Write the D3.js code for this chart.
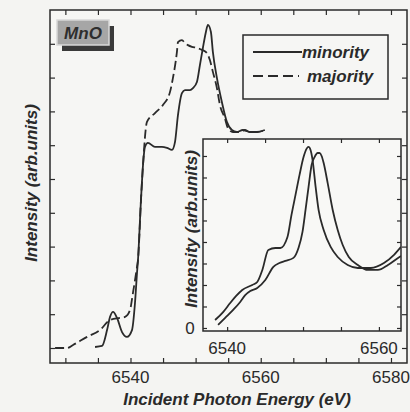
<!DOCTYPE html>
<html lang="en">
<head>
<meta charset="UTF-8">
<script src="https://d3js.org/d3.v7.min.js"></script>
<title>MnO minority / majority spectra</title>
<style>
    body { margin: 0; background: #f4f4f2; }
    text { font-family: "Liberation Sans", Arial, sans-serif; fill: #2a2a2a; }
</style>
</head>
<body>
<script>

    // data: [energy (eV), intensity (arb.)]
    const minorityMain = [
        [6534.56, 0.03], [6535.63, 0.06], [6536.4, 0.53], [6536.86, 0.92], [6537.32, 1.07],
        [6537.93, 0.89], [6538.7, 0.47], [6539.46, 0.33], [6540.23, 0.53], [6540.69, 1.33],
        [6541.0, 2.22], [6541.15, 2.6], [6541.61, 4.38], [6541.92, 5.41], [6542.22, 5.95],
        [6542.68, 6.07], [6543.76, 5.95], [6544.83, 5.95], [6545.6, 5.92], [6546.37, 5.86],
        [6546.83, 6.09], [6547.29, 6.89], [6547.9, 7.54], [6548.36, 7.63], [6549.13, 7.63],
        [6549.59, 7.69], [6550.2, 7.87], [6550.66, 8.37], [6551.12, 8.88], [6551.58, 9.35],
        [6551.89, 9.56], [6552.35, 9.35], [6552.65, 8.76], [6553.27, 7.99], [6554.03, 7.28],
        [6554.8, 6.69], [6555.57, 6.45], [6556.33, 6.39], [6557.25, 6.45], [6558.33, 6.39],
        [6559.4, 6.39], [6560.63, 6.45]
    ];

    const majorityMain = [
        [6528.42, 0], [6530.26, 0], [6531.18, 0.09], [6533.33, 0.33], [6535.32, 0.53],
        [6536.86, 0.83], [6538.39, 0.89], [6539.16, 0.92], [6539.92, 1.12], [6540.38, 1.63],
        [6541.0, 2.4], [6541.15, 2.6], [6541.61, 4.38], [6541.92, 5.41], [6542.53, 6.69],
        [6543.76, 6.95], [6544.98, 7.19], [6546.06, 7.57], [6546.52, 7.99], [6547.13, 8.76],
        [6547.29, 9.05], [6547.9, 9.11], [6548.36, 9.02], [6548.82, 8.96], [6549.43, 8.91],
        [6550.2, 8.88], [6550.97, 8.82], [6551.73, 8.73], [6552.19, 8.52], [6552.65, 8.17],
        [6553.27, 7.69], [6553.73, 7.19], [6554.49, 6.8], [6554.95, 6.51], [6555.72, 6.39],
        [6556.79, 6.39], [6557.56, 6.45], [6558.33, 6.39], [6559.4, 6.39], [6560.32, 6.42]
    ];

    const insetEarly = [
        [6538.41, 0.37], [6539.47, 0.74], [6540.4, 1.16], [6541.19, 1.49], [6541.99, 1.77],
        [6543.31, 2.0], [6543.97, 2.14], [6544.64, 2.7], [6545.43, 3.63], [6546.36, 3.72],
        [6547.02, 3.72], [6547.95, 4.23], [6548.48, 5.26], [6549.01, 6.19], [6549.54, 7.12],
        [6550.07, 7.95], [6550.46, 8.33], [6550.73, 8.42], [6550.99, 8.28], [6551.26, 7.81],
        [6551.66, 6.56], [6552.05, 5.49], [6552.72, 4.56], [6553.64, 3.77], [6554.57, 3.3],
        [6555.89, 2.93], [6557.22, 2.79], [6558.94, 2.79], [6560.66, 3.02], [6561.99, 3.4],
        [6562.91, 3.77]
    ];

    const insetLate = [
        [6538.81, 0.14], [6539.74, 0.47], [6540.79, 0.84], [6541.72, 1.21], [6542.38, 1.53],
        [6543.05, 1.72], [6543.97, 1.86], [6545.03, 2.23], [6546.09, 2.84], [6546.89, 3.02],
        [6547.68, 3.12], [6548.74, 3.26], [6549.4, 3.72], [6549.93, 4.47], [6550.33, 5.49],
        [6550.73, 6.56], [6551.13, 7.58], [6551.52, 7.95], [6551.92, 8.14], [6552.19, 8.14],
        [6552.45, 8.0], [6552.72, 7.67], [6553.25, 6.74], [6553.91, 5.49], [6554.57, 4.56],
        [6555.23, 3.86], [6556.03, 3.3], [6557.22, 2.93], [6558.54, 2.7], [6559.87, 2.7],
        [6561.19, 2.93], [6562.52, 3.26], [6562.91, 3.35]
    ];

    const mainXLabels = [6540, 6560, 6580];
    const insetXLabels = [6540, 6560];
    const insetYLabels = [0];
    const legendNames = ["minority", "majority"];

    const w = 410;
    const h = 412;
    const ink = "#2a2a2a";

    const svg = d3.select("body")
        .append("svg")
        .attr("width", w)
        .attr("height", h);

    // main panel
    const main = { left: 50, right: 407, top: 10, bottom: 363 };

    const x = d3.scaleLinear()
        .domain([6527.64, 6582.46])
        .range([main.left, main.right]);

    const y = d3.scaleLinear()
        .domain([-0.444, 10])
        .range([main.bottom, main.top]);

    svg.append("rect")
        .attr("x", main.left).attr("y", main.top)
        .attr("width", main.right - main.left)
        .attr("height", main.bottom - main.top)
        .attr("fill", "#f6f6f4")
        .attr("stroke", ink)
        .attr("stroke-width", 1.5);

    const xTicks = d3.range(6530, 6581, 5);
    const yTicks = d3.range(0, 10, 1);

    function tickAxes(g, xs, ys, xv, yv, len) {
        const [x0, x1] = xs.range();
        const [y0, y1] = ys.range();
        g.append("g").call(d3.axisBottom(xs).tickValues(xv).tickSize(-len).tickFormat(""))
            .attr("transform", "translate(0," + y0 + ")");
        g.append("g").call(d3.axisTop(xs).tickValues(xv).tickSize(-len).tickFormat(""))
            .attr("transform", "translate(0," + y1 + ")");
        g.append("g").call(d3.axisLeft(ys).tickValues(yv).tickSize(-len).tickFormat(""))
            .attr("transform", "translate(" + x0 + ",0)");
        g.append("g").call(d3.axisRight(ys).tickValues(yv).tickSize(-len).tickFormat(""))
            .attr("transform", "translate(" + x1 + ",0)");
        g.selectAll(".domain").remove();
        g.selectAll(".tick line").attr("stroke", ink).attr("stroke-width", 1.2);
    }

    tickAxes(svg.append("g"), x, y, xTicks, yTicks, 5);

    // main tick labels
    svg.append("g").selectAll("text")
        .data(mainXLabels)
        .enter()
        .append("text")
        .attr("x", d => x(d))
        .attr("y", 383)
        .attr("text-anchor", "middle")
        .style("font-size", "17px")
        .text(d => d);

    const line = (xs, ys) => d3.line()
        .x(d => xs(d[0]))
        .y(d => ys(d[1]))
        .curve(d3.curveMonotoneX);

    svg.append("path")
        .datum(majorityMain)
        .attr("d", line(x, y))
        .attr("fill", "none")
        .attr("stroke", ink)
        .attr("stroke-width", 1.8)
        .attr("stroke-dasharray", "9,4");

    svg.append("path")
        .datum(minorityMain)
        .attr("d", line(x, y))
        .attr("fill", "none")
        .attr("stroke", ink)
        .attr("stroke-width", 1.8);

    // axis titles
    svg.append("text")
        .attr("x", 237)
        .attr("y", 405)
        .attr("text-anchor", "middle")
        .style("font-size", "17px")
        .style("font-weight", "bold")
        .style("font-style", "italic")
        .text("Incident Photon Energy (eV)");

    svg.append("text")
        .attr("transform", "translate(37,183) rotate(-90)")
        .attr("text-anchor", "middle")
        .style("font-size", "17px")
        .style("font-weight", "bold")
        .style("font-style", "italic")
        .text("Intensity (arb.units)");

    // MnO tag
    const tag = svg.append("g");
    tag.append("rect")
        .attr("x", 62).attr("y", 26).attr("width", 52).attr("height", 25)
        .attr("fill", "#3a3a3a");
    tag.append("rect")
        .attr("x", 57).attr("y", 20).attr("width", 52).attr("height", 25)
        .attr("fill", "#a6a6a6")
        .attr("stroke", "#d8d8d8")
        .attr("stroke-width", 1.5);
    tag.append("text")
        .attr("x", 83).attr("y", 39)
        .attr("text-anchor", "middle")
        .style("font-size", "17px")
        .style("font-weight", "bold")
        .style("font-style", "italic")
        .style("fill", "#2e2e2e")
        .text("MnO");

    // legend
    const legend = svg.append("g");
    legend.append("rect")
        .attr("x", 243).attr("y", 35).attr("width", 145).attr("height", 64)
        .attr("fill", "none")
        .attr("stroke", ink)
        .attr("stroke-width", 1.5);
    legend.selectAll(".lg")
        .data(legendNames)
        .enter()
        .append("line")
        .attr("x1", 253).attr("x2", (d, i) => i ? 299 : 302)
        .attr("y1", (d, i) => 52 + i * 24)
        .attr("y2", (d, i) => 52 + i * 24)
        .attr("stroke", ink)
        .attr("stroke-width", 1.8)
        .attr("stroke-dasharray", (d, i) => i ? "10,5" : null);
    legend.selectAll("text")
        .data(legendNames)
        .enter()
        .append("text")
        .attr("x", (d, i) => i ? 307 : 302)
        .attr("y", (d, i) => 58 + i * 24)
        .style("font-size", "17px")
        .style("font-weight", "bold")
        .style("font-style", "italic")
        .text(d => d);

    // inset
    const ins = { left: 203, right: 401, top: 139, bottom: 331 };

    const xi = d3.scaleLinear()
        .domain([6536.82, 6562.91])
        .range([ins.left, ins.right]);

    const yi = d3.scaleLinear()
        .domain([-0.14, 8.79])
        .range([ins.bottom, ins.top]);

    svg.append("rect")
        .attr("x", ins.left).attr("y", ins.top)
        .attr("width", ins.right - ins.left)
        .attr("height", ins.bottom - ins.top)
        .attr("fill", "#f8f8f6")
        .attr("stroke", ink)
        .attr("stroke-width", 1.5);

    tickAxes(svg.append("g"), xi, yi, d3.range(6540, 6561, 5), d3.range(0, 9, 1), 4);

    svg.append("defs").append("clipPath").attr("id", "insetClip")
        .append("rect")
        .attr("x", ins.left).attr("y", ins.top)
        .attr("width", ins.right - ins.left)
        .attr("height", ins.bottom - ins.top);

    const insetLines = svg.append("g").attr("clip-path", "url(#insetClip)");
    [insetEarly, insetLate].forEach(s => {
        insetLines.append("path")
            .datum(s)
            .attr("d", line(xi, yi))
            .attr("fill", "none")
            .attr("stroke", ink)
            .attr("stroke-width", 1.8);
    });

    svg.append("g").selectAll("text")
        .data(insetXLabels)
        .enter()
        .append("text")
        .attr("x", d => xi(d))
        .attr("y", 354)
        .attr("text-anchor", "middle")
        .style("font-size", "17px")
        .text(d => d);

    svg.append("g").selectAll("text")
        .data(insetYLabels)
        .enter()
        .append("text")
        .attr("x", 190)
        .attr("y", d => yi(d) + 6)
        .attr("text-anchor", "middle")
        .style("font-size", "17px")
        .text(d => d);

    svg.append("text")
        .attr("transform", "translate(197,229) rotate(-90)")
        .attr("text-anchor", "middle")
        .style("font-size", "17px")
        .style("font-weight", "bold")
        .style("font-style", "italic")
        .text("Intensity (arb.units)");

</script>
</body>
</html>
